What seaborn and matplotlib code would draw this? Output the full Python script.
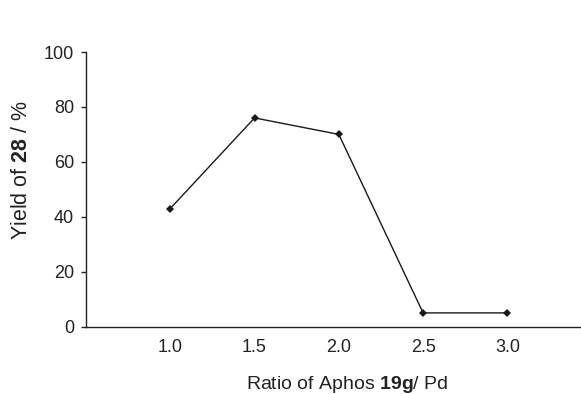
import numpy as np
import pandas as pd
import seaborn as sns
import matplotlib.pyplot as plt

ratio = [1.0, 1.5, 2.0, 2.5, 3.0]
yield_pct = [43, 76, 70, 5, 5]

df = pd.DataFrame({"ratio": ratio, "yield": yield_pct})

sns.set_style("ticks")
plt.rcParams['font.family'] = ['Liberation Sans', 'DejaVu Sans']
plt.rcParams['mathtext.fontset'] = 'custom'
plt.rcParams['mathtext.rm'] = 'Liberation Sans'
plt.rcParams['mathtext.bf'] = 'Liberation Sans:bold'

fig = plt.figure(figsize=(5.81, 3.94), dpi=100)
ax = fig.add_axes([0.148, 0.171, 0.85, 0.697])

sns.lineplot(data=df, x="ratio", y="yield", ax=ax, color="#1a1a1a",
             linewidth=1.0, marker="D", markersize=4, markeredgewidth=0)

ax.set_xlim(0.5, 3.43)
ax.set_ylim(0, 100)
ax.set_xticks(ratio)
ax.set_xticklabels([f"{r:.1f}" for r in ratio])
ax.set_yticks([0, 20, 40, 60, 80, 100])

ax.tick_params(axis='x', length=0, pad=9, labelsize=13, colors="#222222")
ax.tick_params(axis='y', length=3.5, width=1, pad=5, labelsize=13, colors="#222222")
for s in ["left", "bottom"]:
    ax.spines[s].set_color("#222222")
    ax.spines[s].set_linewidth(1.0)
sns.despine(ax=ax)

ax.set_xlabel(r"Ratio of Aphos $\mathbf{19g}$/ Pd", fontsize=14, color="#222222")
ax.set_ylabel(r"Yield of $\mathbf{28}$ / %", fontsize=15.5, color="#222222")
ax.xaxis.set_label_coords(0.528, -0.172)
ax.yaxis.set_label_coords(-0.11, 0.57)

fig.savefig("out.png", dpi=100)
